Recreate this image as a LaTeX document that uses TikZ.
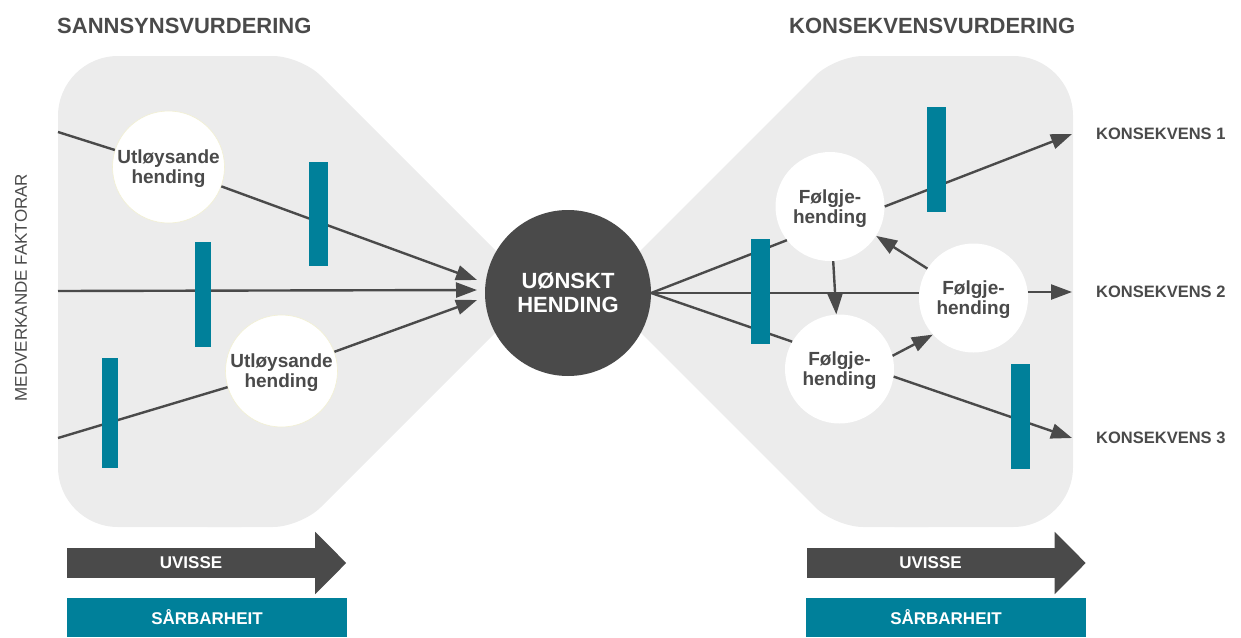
\documentclass[tikz,border=0pt]{standalone}
\usepackage{fontspec}
\setmainfont{Liberation Sans}
\usetikzlibrary{arrows.meta,positioning}
\definecolor{Ink}{HTML}{4A4A4A}
\definecolor{Haze}{HTML}{ECECEC}
\definecolor{Petrol}{HTML}{00809A}
\definecolor{Rim}{HTML}{F2F0D2}

\tikzset{
  event/.style={circle,fill=white,minimum size=109pt,inner sep=0pt,align=center,text depth=0pt,
                text=Ink,font=\fontsize{19}{20}\selectfont\bfseries},
  trigger/.style={event,draw=Rim,line width=0.6pt,minimum size=112pt},
  flow/.style={draw=Ink,line width=2.4pt},
  arr/.style={flow,-{Triangle[length=21pt,width=15pt]}},
  heading/.style={text=Ink,font=\fontsize{22}{24}\selectfont\bfseries,inner sep=0pt,anchor=west},
  outcome/.style={text=Ink,font=\fontsize{16.5}{18}\selectfont\bfseries,inner sep=0pt},
  shaft/.style={fill=Ink,text=white,minimum width=248pt,minimum height=30pt,inner sep=0pt,
                font=\fontsize{17}{18}\selectfont\bfseries},
  band/.style={fill=Petrol,text=white,minimum width=280pt,minimum height=39pt,inner sep=0pt,
               font=\fontsize{17}{18}\selectfont\bfseries}
}

\begin{document}
\begin{tikzpicture}[x=1pt,y=-1pt]
  \useasboundingbox (0,0) rectangle (1241,637);

  % the two halves of the bow tie
  \fill[Haze,rounded corners=60pt] (58,56) rectangle (301,527);
  \fill[Haze,rounded corners=28pt] (180,56) -- (301,56) -- (536.5,291.5) -- (301,527) -- (180,527) -- cycle;
  \fill[Haze,rounded corners=60pt] (835,56) rectangle (1073,527);
  \fill[Haze,rounded corners=28pt] (956,56) -- (835,56) -- (599.5,291.5) -- (835,527) -- (956,527) -- cycle;

  \node[heading] (sv) at (57,26) {SANNSYNSVURDERING};
  \node[heading] (kv) at (789,26) {KONSEKVENSVURDERING};
  \node[rotate=90,text=Ink,font=\fontsize{17}{18}\selectfont] (mf) at (21,287.5) {MEDVERKANDE FAKTORAR};

  % events
  \node[trigger] (U1) at (168.5,167) {Utløysande\\hending};
  \node[trigger] (U2) at (281.5,371) {Utløysande\\hending};
  \node[event] (F1) at (830,206.5) {Følgje-\\hending};
  \node[event] (F2) at (973.5,298) {Følgje-\\hending};
  \node[event] (F3) at (839.5,369) {Følgje-\\hending};
  \node[circle,fill=Ink,minimum size=166pt,inner sep=0pt,align=center,text=white,
        font=\fontsize{22}{24}\selectfont\bfseries] (ue) at (568,293) {UØNSKT\\HENDING};

  % causes
  \coordinate (s1) at (58,132);
  \coordinate (s2) at (58,291);
  \coordinate (s3) at (58,438);
  \coordinate (t1) at (477,280);
  \coordinate (t2) at (477,290);
  \coordinate (t3) at (477,300);
  \draw[flow] (s1) -- (U1);
  \draw[arr] (U1) -- (t1);
  \draw[arr] (s2) -- (t2);
  \draw[flow] (s3) -- (U2);
  \draw[arr] (U2) -- (t3);

  % consequences
  \coordinate (k1) at (1072,134);
  \coordinate (k2) at (1072,292);
  \coordinate (k3) at (1072,438);
  \draw[flow] (ue.east) -- (F1.218);
  \draw[flow] (ue.east) -- (ue.east -| F2.west);
  \draw[flow] (ue.east) -- (F3.150);
  \draw[arr] (F1.east) -- (k1);
  \draw[arr] (F2.east |- k2) -- (k2);
  \draw[arr] (F3.352) -- (k3);
  \draw[arr] (F1) -- (F3);
  \draw[arr] (F2) -- (F1);
  \draw[arr] (F3.14) -- (F2.222);

  \node[outcome,right=24pt of k1] (K1) {KONSEKVENS 1};
  \node[outcome,right=24pt of k2] (K2) {KONSEKVENS 2};
  \node[outcome,right=24pt of k3] (K3) {KONSEKVENS 3};

  % barriers
  \foreach \xa/\ya/\xb/\yb in {309/162/328/266, 195/242/211/347, 102/358/118/468,
                               751/239/770/344, 927/107/946/212, 1011/364/1030/469}
    \fill[Petrol] (\xa,\ya) rectangle (\xb,\yb);

  % uncertainty and vulnerability bars
  \node[shaft] (uv1) at (191,563) {UVISSE};
  \fill[Ink] ([yshift=16pt]uv1.north east) -- ([xshift=31pt]uv1.east) -- ([yshift=-16pt]uv1.south east) -- cycle;
  \node[shaft] (uv2) at (930.5,563) {UVISSE};
  \fill[Ink] ([yshift=16pt]uv2.north east) -- ([xshift=31pt]uv2.east) -- ([yshift=-16pt]uv2.south east) -- cycle;
  \node[band] (sb1) at (207,617.5) {SÅRBARHEIT};
  \node[band] (sb2) at (946,617.5) {SÅRBARHEIT};
\end{tikzpicture}
\end{document}
